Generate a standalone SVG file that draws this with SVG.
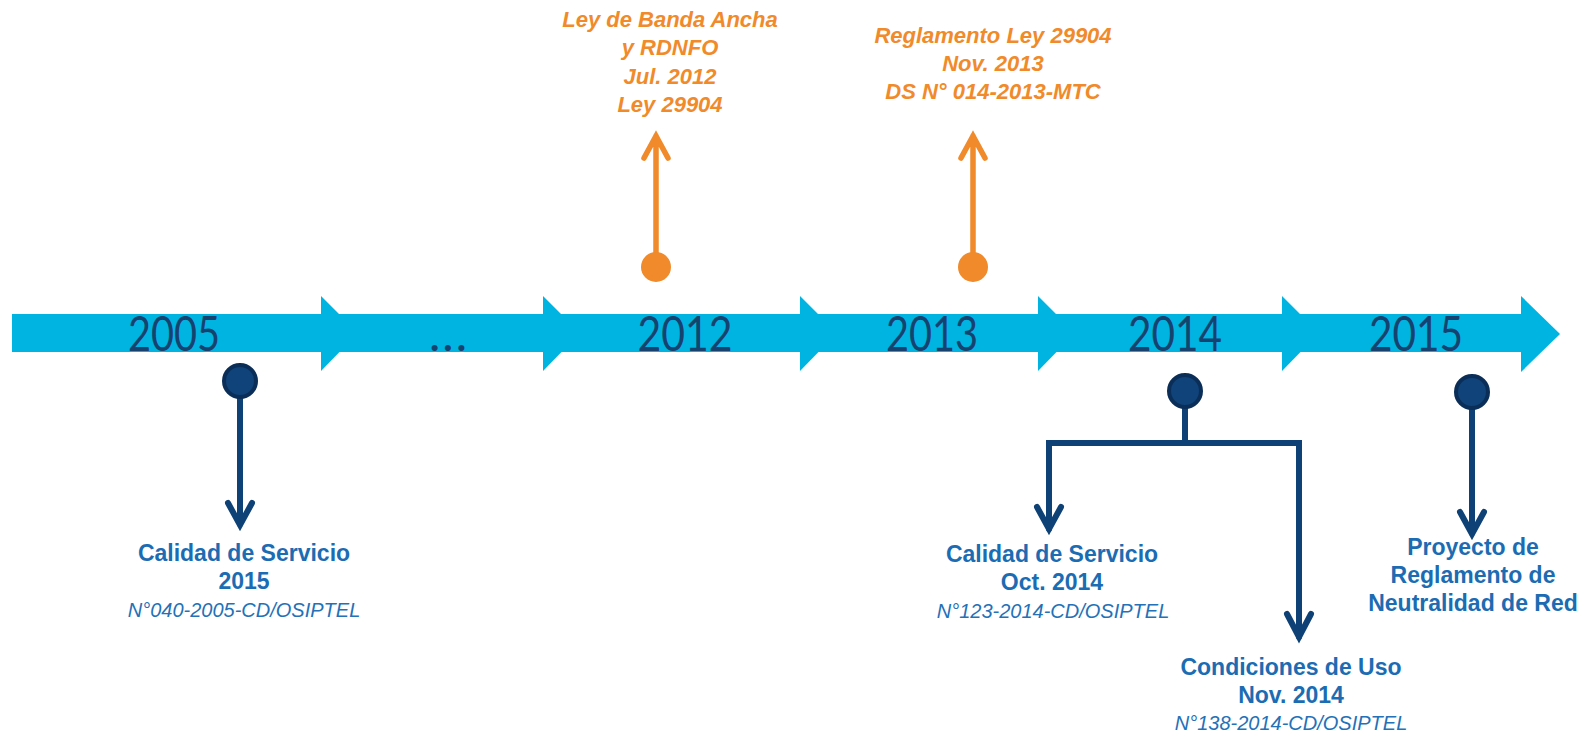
<svg xmlns="http://www.w3.org/2000/svg" width="1585" height="734" viewBox="0 0 1585 734">
<style>
.bar{fill:#00B4E1}
.year{font-family:Lato,"Liberation Sans",Arial,sans-serif;font-size:48px;fill:#15426F;text-anchor:middle}
.nav{fill:none;stroke:#0E4277;stroke-width:6;stroke-linecap:round;stroke-linejoin:miter}
.navc{fill:#0F4379;stroke:#0A2E57;stroke-width:4}
.org{fill:none;stroke:#F08A2A;stroke-width:5.5;stroke-linecap:round;stroke-linejoin:miter}
.orgc{fill:#F08A2A}
.bt{font-family:"Liberation Sans",Arial,sans-serif;font-weight:bold;font-size:23px;fill:#1B6CB3;text-anchor:middle}
.it{font-family:"Liberation Sans",Arial,sans-serif;font-style:italic;font-size:20px;fill:#2471B7;text-anchor:middle}
.ot{font-family:"Liberation Sans",Arial,sans-serif;font-weight:bold;font-style:italic;font-size:22px;fill:#F08A2A;text-anchor:middle}
</style>
<g id="timeline">
<rect class="bar" x="12" y="314" width="1511" height="38"/>
<polygon class="bar" points="321,296 358,333 321,371"/>
<polygon class="bar" points="543,296 580,333 543,371"/>
<polygon class="bar" points="800,296 837,333 800,371"/>
<polygon class="bar" points="1038,296 1075,333 1038,371"/>
<polygon class="bar" points="1282,296 1319,333 1282,371"/>
<polygon class="bar" points="1521,296 1560,334 1521,372"/>
<text class="year" x="174" y="351" textLength="92" lengthAdjust="spacingAndGlyphs">2005</text>
<text class="year" x="449" y="351" letter-spacing="2">...</text>
<text class="year" x="685" y="351" textLength="95" lengthAdjust="spacingAndGlyphs">2012</text>
<text class="year" x="932" y="351" textLength="92" lengthAdjust="spacingAndGlyphs">2013</text>
<text class="year" x="1175" y="351" textLength="94" lengthAdjust="spacingAndGlyphs">2014</text>
<text class="year" x="1416" y="351" textLength="94" lengthAdjust="spacingAndGlyphs">2015</text>
</g>
<g id="connectors">
<path class="org" d="M656,252 V136 M644,158 L656,136 L668,158"/>
<path class="org" d="M973,252 V136 M961,158 L973,136 L985,158"/>
<path class="nav" d="M240,398 V525 M228,503 L240,525 L252,503"/>
<path class="nav" d="M1185,408 V443"/>
<path class="nav" d="M1049,529 V443 H1299 V637" stroke-linecap="butt"/>
<path class="nav" d="M1037,507 L1049,529 L1061,507"/>
<path class="nav" d="M1287,614 L1299,637 L1311,614"/>
<path class="nav" d="M1472,408 V534 M1460,512 L1472,534 L1484,512"/>
</g>
<g id="node-2012">
<circle class="orgc" cx="656" cy="267" r="15"/>
<text class="ot"><tspan x="670" y="27">Ley de Banda Ancha</tspan><tspan x="670" y="55">y RDNFO</tspan><tspan x="670" y="84">Jul. 2012</tspan><tspan x="670" y="112">Ley 29904</tspan></text>
</g>
<g id="node-2013">
<circle class="orgc" cx="973" cy="267" r="15"/>
<text class="ot"><tspan x="993" y="43">Reglamento Ley 29904</tspan><tspan x="993" y="71">Nov. 2013</tspan><tspan x="993" y="99">DS N° 014-2013-MTC</tspan></text>
</g>
<g id="node-2005">
<circle class="navc" cx="240" cy="381" r="16"/>
<text class="bt"><tspan x="244" y="561">Calidad de Servicio</tspan><tspan x="244" y="589">2015</tspan></text>
<text class="it" x="244" y="617">N°040-2005-CD/OSIPTEL</text>
</g>
<g id="node-2014">
<circle class="navc" cx="1185" cy="391" r="16"/>
</g>
<g id="node-calidad-2014">
<text class="bt"><tspan x="1052" y="562">Calidad de Servicio</tspan><tspan x="1052" y="590">Oct. 2014</tspan></text>
<text class="it" x="1053" y="618">N°123-2014-CD/OSIPTEL</text>
</g>
<g id="node-condiciones">
<text class="bt"><tspan x="1291" y="675">Condiciones de Uso</tspan><tspan x="1291" y="703">Nov. 2014</tspan></text>
<text class="it" x="1291" y="730">N°138-2014-CD/OSIPTEL</text>
</g>
<g id="node-2015">
<circle class="navc" cx="1472" cy="392" r="16"/>
<text class="bt"><tspan x="1473" y="555">Proyecto de</tspan><tspan x="1473" y="583">Reglamento de</tspan><tspan x="1473" y="611">Neutralidad de Red</tspan></text>
</g>
</svg>
